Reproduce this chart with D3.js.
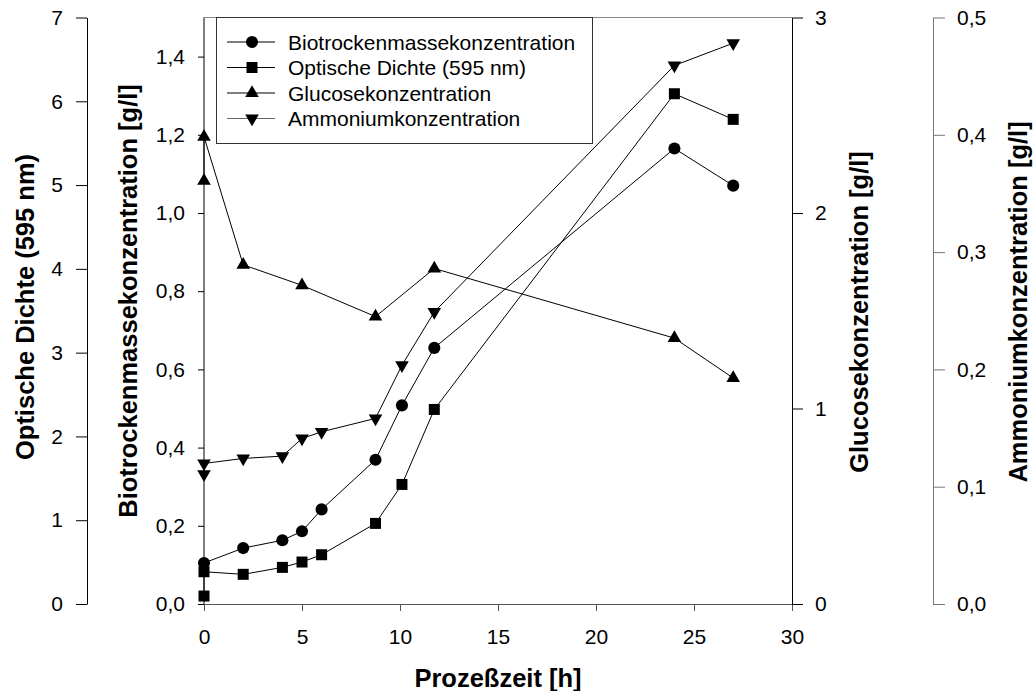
<!DOCTYPE html>
<html>
<head>
<meta charset="utf-8">
<script src="https://cdn.jsdelivr.net/npm/d3@7"></script>
<style>
  html, body { margin: 0; padding: 0; background: #fff; }
  svg { display: block; font-family: "Liberation Sans", Arial, Helvetica, sans-serif; }
</style>
</head>
<body>
<svg id="chart" width="1036" height="691"></svg>
<script>
// ---- data ----
const xTicks = [0, 5, 10, 15, 20, 25, 30];
const odTicks = [0, 1, 2, 3, 4, 5, 6, 7];
const bioTicks = [0, 0.2, 0.4, 0.6, 0.8, 1.0, 1.2, 1.4];
const glucoseTicks = [0, 1, 2, 3];
const ammoniumTicks = [0, 0.1, 0.2, 0.3, 0.4, 0.5];

const seriesNames = ["Biotrockenmassekonzentration", "Optische Dichte (595 nm)", "Glucosekonzentration", "Ammoniumkonzentration"];

const bioTime = [0, 2, 4, 5, 6, 8.75, 10.1, 11.75, 24, 27];
const bioValues = [0.105, 0.143, 0.163, 0.186, 0.242, 0.369, 0.508, 0.655, 1.165, 1.07];

const odTime = [0, 0, 2, 4, 5, 6, 8.75, 10.1, 11.75, 24, 27];
const odValues = [0.095, 0.385, 0.354, 0.437, 0.501, 0.588, 0.962, 1.427, 2.322, 6.09, 5.784];

const glucoseTime = [0, 0, 2, 5, 8.75, 11.75, 24, 27];
const glucoseValues = [2.165, 2.39, 1.735, 1.63, 1.47, 1.716, 1.36, 1.156];

const ammoniumTime = [0, 0, 2, 4, 5, 6, 8.75, 10.1, 11.75, 24, 27];
const ammoniumValues = [0.1107, 0.1198, 0.1241, 0.1261, 0.1411, 0.1468, 0.1582, 0.2036, 0.249, 0.4591, 0.4781];

// ---- layout ----
const svg = d3.select("#chart");
const X0 = 204, X1 = 792, Y0 = 604, Y1 = 17.5;
const xOD = 87, xAmm = 933;
const comma = d => d3.format(".1f")(d).replace(".", ",");

const x = d3.scaleLinear().domain([0, 30]).range([X0, X1]);
const yOD = d3.scaleLinear().domain([0, 7]).range([Y0, Y1]);
const yBio = d3.scaleLinear().domain([0, 1.5]).range([Y0, Y1]);
const yGlc = d3.scaleLinear().domain([0, 3]).range([Y0, Y1]);
const yAmm = d3.scaleLinear().domain([0, 0.5]).range([Y0, Y1]);

const tickFont = "21px";
const titleFont = "25.5px";

function styleAxis(g, color) {
  g.selectAll("path.domain").attr("stroke", color).attr("stroke-width", 1);
  g.selectAll(".tick line").attr("stroke", color).attr("stroke-width", 1);
  g.selectAll(".tick text").attr("fill", "#000").style("font-size", tickFont)
    .style("font-family", "'Liberation Sans', Arial, sans-serif");
}

// top frame line
svg.append("line").attr("x1", X0).attr("x2", X1).attr("y1", Y1).attr("y2", Y1)
  .attr("stroke", "#888").attr("stroke-width", 1);

// x axis
const gx = svg.append("g").attr("transform", `translate(0,${Y0})`)
  .call(d3.axisBottom(x).tickValues(xTicks).tickFormat(d3.format("d")).tickSize(7).tickSizeOuter(0).tickPadding(18));
styleAxis(gx, "#555");

// OD axis (far left)
const gOD = svg.append("g").attr("transform", `translate(${xOD},0)`)
  .call(d3.axisLeft(yOD).tickValues(odTicks).tickFormat(d3.format("d")).tickSize(11).tickSizeOuter(0).tickPadding(13));
styleAxis(gOD, "#000");

// Bio axis (at x=0)
const gBio = svg.append("g").attr("transform", `translate(${X0},0)`)
  .call(d3.axisLeft(yBio).tickValues(bioTicks).tickFormat(comma).tickSize(6).tickSizeOuter(0).tickPadding(13));
styleAxis(gBio, "#000");
gBio.select("path.domain").remove();
svg.append("line").attr("x1", X0).attr("x2", X0).attr("y1", Y1).attr("y2", Y0).attr("stroke", "#000");

// Glucose axis
const gGlc = svg.append("g").attr("transform", `translate(${X1},0)`)
  .call(d3.axisRight(yGlc).tickValues(glucoseTicks).tickFormat(d3.format("d")).tickSize(11).tickSizeOuter(0).tickPadding(12));
styleAxis(gGlc, "#000");

// Ammonium axis
const gAmm = svg.append("g").attr("transform", `translate(${xAmm},0)`)
  .call(d3.axisRight(yAmm).tickValues(ammoniumTicks).tickFormat(comma).tickSize(12).tickSizeOuter(0).tickPadding(12));
styleAxis(gAmm, "#777");

// axis titles
function vTitle(cx, cy, text) {
  svg.append("text").attr("transform", `translate(${cx},${cy}) rotate(-90)`)
    .attr("text-anchor", "middle").attr("dy", "0.36em")
    .style("font-size", titleFont).style("font-weight", "bold").text(text);
}
vTitle(25, 307, "Optische Dichte (595 nm)");
vTitle(128, 301, "Biotrockenmassekonzentration [g/l]");
vTitle(859, 312, "Glucosekonzentration [g/l]");
vTitle(1018, 302, "Ammoniumkonzentration [g/l]");

svg.append("text").attr("x", x(15)).attr("y", 687).attr("text-anchor", "middle")
  .style("font-size", titleFont).style("font-weight", "bold").text("Prozeßzeit [h]");

// series
const series = [
  { t: bioTime, v: bioValues, y: yBio, sym: d3.symbolCircle, size: 115, rot: 0 },
  { t: odTime, v: odValues, y: yOD, sym: d3.symbolSquare, size: 121, rot: 0 },
  { t: glucoseTime, v: glucoseValues, y: yGlc, sym: d3.symbolTriangle, size: 80, rot: 0 },
  { t: ammoniumTime, v: ammoniumValues, y: yAmm, sym: d3.symbolTriangle, size: 80, rot: 180 }
];

series.forEach(s => {
  const pts = s.t.map((t, i) => [t, s.v[i]]);
  const line = d3.line().x(d => x(d[0])).y(d => s.y(d[1]));
  svg.append("path").attr("d", line(pts)).attr("fill", "none").attr("stroke", "#000").attr("stroke-width", 1);
  svg.append("g").selectAll("path").data(pts).join("path")
    .attr("d", d3.symbol().type(s.sym).size(s.size))
    .attr("transform", d => `translate(${x(d[0])},${s.y(d[1])}) rotate(${s.rot})`)
    .attr("fill", "#000");
});

// legend
const lg = svg.append("g");
lg.append("rect").attr("x", 216.5).attr("y", 17.5).attr("width", 376).attr("height", 126)
  .attr("fill", "#fff").attr("stroke", "#333").attr("stroke-width", 1);
const rowY = [42, 67.5, 93, 118.5];
const lineColors = ["#000", "#000", "#000", "#666"];
series.forEach((s, i) => {
  lg.append("line").attr("x1", 227).attr("x2", 275).attr("y1", rowY[i]).attr("y2", rowY[i])
    .attr("stroke", lineColors[i]).attr("stroke-width", 1);
  lg.append("path").attr("d", d3.symbol().type(s.sym).size(s.size)())
    .attr("transform", `translate(252,${rowY[i]}) rotate(${s.rot})`).attr("fill", "#000");
  lg.append("text").attr("x", 288).attr("y", rowY[i]).attr("dy", "0.36em")
    .style("font-size", tickFont).text(seriesNames[i]);
});
</script>
</body>
</html>
